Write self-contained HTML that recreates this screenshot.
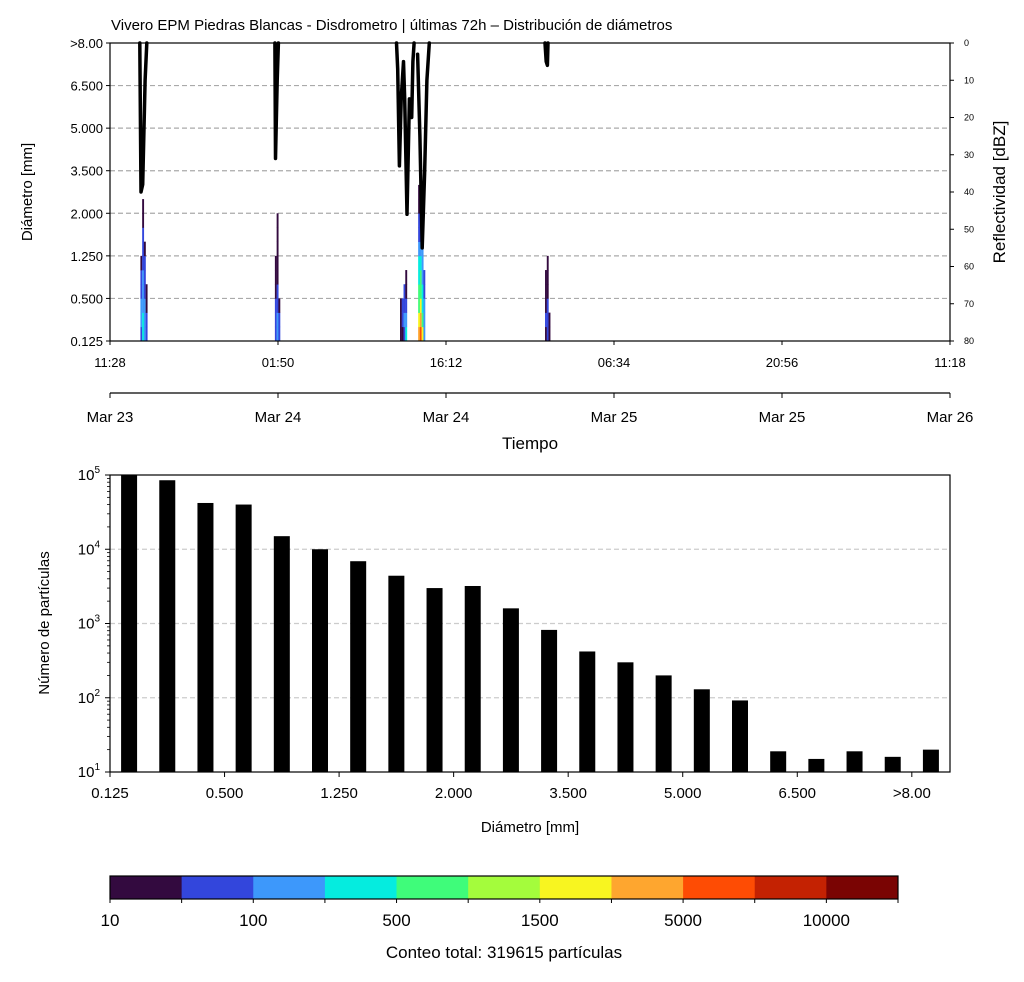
<!DOCTYPE html>
<html><head><meta charset="utf-8"><style>
body{margin:0;background:#fff;}
svg text{font-family:"Liberation Sans","DejaVu Sans",sans-serif;fill:#000;}
</style></head><body>
<svg id="c" width="1024" height="977" xmlns="http://www.w3.org/2000/svg">
<rect width="1024" height="977" fill="#fff"/>
<text x="111" y="30" font-size="15">Vivero EPM Piedras Blancas - Disdrometro | últimas 72h – Distribución de diámetros</text>
<g id="topPanel"></g>
<g id="bot"></g>
<g id="cb"></g>
</svg>
<script>
// ---------- data ----------
const diamLabels=["0.125","0.500","1.250","2.000","3.500","5.000","6.500",">8.00"];
const timeLabels=["11:28","01:50","16:12","06:34","20:56","11:18"];
const dateLabels=["Mar 23","Mar 24","Mar 24","Mar 25","Mar 25","Mar 26"];
const reflTicks=[0,10,20,30,40,50,60,70,80];
const colHour=[2.6,2.75,2.9,3.05,14.1,14.25,14.4,24.8,24.95,25.1,25.25,26.35,26.5,26.65,26.8,37.2,37.35,37.5];
const colCounts=[[60,150,120,80,40,20],[400,300,200,150,100,60,40,30,20,15],[200,150,100,80,50,30,20],[40,30,20,15],
[50,40,30,20,15,12],[150,120,80,40,20,15,12,11,10],[60,40,20],
[15,15,12],[20,40,30],[40,100,80,40],[300,200,60,20,11],
[3000,1500,900,600,400,300,150,80,40,20,12],[6000,3000,1500,800,500,250,120,60,30,20,15,12],[1500,800,400,300,200,150,100,60,30],[200,150,100,60,40],
[20,30,20,15,12],[60,80,40,20,15,12],[15,12]];
const reflHour=[2.55,2.65,2.8,3.0,3.15,null,14.1,14.15,14.3,14.4,null,24.5,24.6,24.75,24.9,25.1,25.2,25.4,25.6,25.8,25.9,26.0,null,26.3,26.5,26.7,26.9,27.1,27.3,null,37.2,37.3,37.4,37.45];
const reflDbz=[0,40,38,10,0,null,0,31,10,0,null,0,7,33,15,5,15,46,15,20,5,0,null,3,25,55,35,10,0,null,0,5,6,0];
const histCounts=[100000,85000,42000,40000,15000,10000,6900,4400,3000,3200,1600,820,420,300,200,130,92,19,15,19,16,20];
const histTickLabels=["0.125","0.500","1.250","2.000","3.500","5.000","6.500",">8.00"];
const cbLevels=[10,30,100,250,500,1000,1500,3000,5000,7500,10000,20000];
const cbTickLabels=["10","100","500","1500","5000","10000"];
const cbColors=["#330a3f","#3346dc","#3d98fb","#05ecdf","#3ffc7a","#a4fc3c","#f8f520","#fea62f","#fe4c04","#c42202","#7a0403"];
const totalCount=319615;

const NS="http://www.w3.org/2000/svg";
function mk(p,t,a){const e=document.createElementNS(NS,t);for(const k in a)e.setAttribute(k,a[k]);p.appendChild(e);return e;}
function txt(p,x,y,s,sz,anc){const e=mk(p,"text",{x:x,y:y,"font-size":sz,"text-anchor":anc||"start"});e.textContent=s;return e;}
function colorFor(v){for(let i=0;i<cbColors.length;i++){if(v<cbLevels[i+1])return cbColors[i];}return cbColors[cbColors.length-1];}

// ---------- top panel ----------
const topG=document.getElementById("topPanel");
const TX0=110,TX1=950,TY0=43,TY1=341,H=71.83;
const binH=(TY1-TY0)/21;
const xT=h=>TX0+h/H*(TX1-TX0);
const yBin=b=>TY1-b*binH;
const yDbz=d=>TY0+d/80*(TY1-TY0);
diamLabels.forEach((l,i)=>{const y=yBin(i*3);
 if(i>0&&i<7){const g=mk(topG,"line",{x1:TX0,x2:TX1,y1:y,y2:y,stroke:"#aaa","stroke-width":1.2,"stroke-dasharray":"5,3"});}
 mk(topG,"line",{x1:TX0-4,x2:TX0,y1:y,y2:y,stroke:"#000"});
 const t=txt(topG,TX0-7,y+5,l,13,"end");});
colHour.forEach((h,i)=>{colCounts[i].forEach((c,b)=>{
 const r=mk(topG,"rect",{x:xT(h),y:yBin(b+1),width:1.9,height:binH+0.3,fill:colorFor(c)});
 });});
let d="",pen=false;
reflHour.forEach((h,i)=>{if(h===null){pen=false;return;}d+=(pen?"L":"M")+xT(h).toFixed(1)+","+yDbz(reflDbz[i]).toFixed(1);pen=true;});
const rl=mk(topG,"path",{d:d,fill:"none",stroke:"#000","stroke-width":3.5,"stroke-linejoin":"round","stroke-linecap":"round"});

const fr=mk(topG,"rect",{x:TX0,y:TY0,width:TX1-TX0,height:TY1-TY0,fill:"none",stroke:"#000","stroke-width":1.2});

reflTicks.forEach(v=>{const y=yDbz(v);mk(topG,"line",{x1:TX1,x2:TX1+4,y1:y,y2:y,stroke:"#000"});
 const t=txt(topG,TX1+14,y+3,String(v),9,"start");});
timeLabels.forEach((l,i)=>{const x=TX0+i*(TX1-TX0)/5;mk(topG,"line",{x1:x,x2:x,y1:TY1,y2:TY1+4,stroke:"#000"});
 const t=txt(topG,x,TY1+26,l,13,"middle");});
mk(topG,"line",{x1:TX0,x2:TX1,y1:393,y2:393,stroke:"#000","stroke-width":1.2});
dateLabels.forEach((l,i)=>{const x=TX0+i*(TX1-TX0)/5;mk(topG,"line",{x1:x,x2:x,y1:393,y2:398,stroke:"#000"});
 const t=txt(topG,x,422,l,15,"middle");});
let tl=txt(topG,530,449,"Tiempo",17,"middle");
tl=mk(topG,"text",{x:0,y:0,"font-size":15,"text-anchor":"middle",transform:"translate(32,192) rotate(-90)"});tl.textContent="Diámetro [mm]";

tl=mk(topG,"text",{x:0,y:0,"font-size":17,"text-anchor":"middle",transform:"translate(1005,192) rotate(-90)"});tl.textContent="Reflectividad [dBZ]";


// ---------- histogram ----------
const bot=document.getElementById("bot");
const BX0=110,BX1=950,BY0=475,BY1=772;
const yLog=v=>BY1-(Math.log10(v)-1)/4*(BY1-BY0);
const bw=(BX1-BX0)/22;
[2,3,4].forEach(e=>{const y=yLog(Math.pow(10,e));const g=mk(bot,"line",{x1:BX0,x2:BX1,y1:y,y2:y,stroke:"#ccc","stroke-width":1.2,"stroke-dasharray":"5,3"});
 });
for(let e=1;e<=5;e++){const y=yLog(Math.pow(10,e));mk(bot,"line",{x1:BX0-5,x2:BX0,y1:y,y2:y,stroke:"#000"});
 const tt=mk(bot,"text",{x:BX0-10,y:y+5,"font-size":15,"text-anchor":"end"});tt.innerHTML='10<tspan dy="-7" font-size="10">'+e+'</tspan>';
 
 if(e<5)for(let m=2;m<10;m++){const ym=yLog(m*Math.pow(10,e));mk(bot,"line",{x1:BX0-3,x2:BX0,y1:ym,y2:ym,stroke:"#000","stroke-width":0.8});}}
histCounts.forEach((c,i)=>{const x=BX0+bw*(i+0.5);const y=yLog(c);
 const r=mk(bot,"rect",{x:x-8,y:y,width:16,height:BY1-y,fill:"#000"});
 });
const bf=mk(bot,"rect",{x:BX0,y:BY0,width:BX1-BX0,height:BY1-BY0,fill:"none",stroke:"#000","stroke-width":1.2});

histTickLabels.forEach((l,i)=>{const x=BX0+i*3*bw;mk(bot,"line",{x1:x,x2:x,y1:BY1,y2:BY1+5,stroke:"#000"});
 const tt=txt(bot,x,BY1+26,l,15,"middle");});
tl=txt(bot,530,832,"Diámetro [mm]",15,"middle");
tl=mk(bot,"text",{x:0,y:0,"font-size":15,"text-anchor":"middle",transform:"translate(49,623) rotate(-90)"});tl.textContent="Número de partículas";


// ---------- colorbar ----------
const cb=document.getElementById("cb");
const CX0=110,CX1=898,CY0=876,CY1=899,cw=(CX1-CX0)/cbColors.length;
cbColors.forEach((c,i)=>{const r=mk(cb,"rect",{x:CX0+i*cw,y:CY0,width:cw+0.5,height:CY1-CY0,fill:c});
 });
mk(cb,"rect",{x:CX0,y:CY0,width:CX1-CX0,height:CY1-CY0,fill:"none",stroke:"#000","stroke-width":1.2});
for(let i=0;i<=cbColors.length;i++){const x=CX0+i*cw;mk(cb,"line",{x1:x,x2:x,y1:CY1,y2:CY1+4,stroke:"#000"});}
cbTickLabels.forEach((l,i)=>{const tt=txt(cb,CX0+i*2*cw,926,l,17,"middle");});
tl=txt(cb,504,958,"Conteo total: "+totalCount+" partículas",17,"middle");
</script>
</body></html>
